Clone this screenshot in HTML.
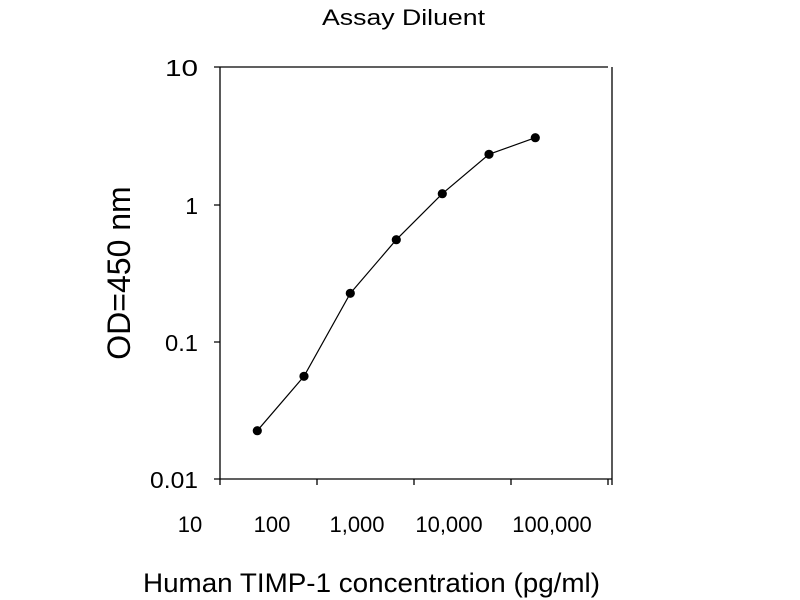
<!DOCTYPE html>
<html><head><meta charset="utf-8"><style>html,body{margin:0;padding:0;background:#fff}svg{display:block}</style></head>
<body>
<svg width="800" height="600" xmlns="http://www.w3.org/2000/svg" font-family="Liberation Sans, Arial, sans-serif" fill="#000">
<text x="322" y="25" font-size="22" textLength="163" lengthAdjust="spacingAndGlyphs">Assay Diluent</text>
<g stroke="#000" stroke-width="1.3" fill="none">
<path d="M220,67 H608 M220,67 V479 H612 M612,67 V485"/>
<path d="M214,67 H220 M214,205 H220 M214,342 H220 M214,479 H220"/>
<path d="M220,479 V485 M317,479 V485 M414,479 V485 M511,479 V485 M608,479 V485"/>
<polyline stroke-width="1.2" points="257.3,430.7 304,376.3 350.3,293.3 396.3,239.7 442.3,193.7 489,154.3 535.3,137.7"/>
</g>
<g>
<circle cx="257.3" cy="430.7" r="4.6"/><circle cx="304" cy="376.3" r="4.6"/><circle cx="350.3" cy="293.3" r="4.6"/><circle cx="396.3" cy="239.7" r="4.6"/><circle cx="442.3" cy="193.7" r="4.6"/><circle cx="489" cy="154.3" r="4.6"/><circle cx="535.3" cy="137.7" r="4.6"/>
</g>
<g font-size="23" text-anchor="end">
<text x="198" y="76" textLength="33" lengthAdjust="spacingAndGlyphs">10</text>
<text x="198" y="214">1</text>
<text x="198" y="351" textLength="33" lengthAdjust="spacingAndGlyphs">0.1</text>
<text x="198" y="488" textLength="48" lengthAdjust="spacingAndGlyphs">0.01</text>
</g>
<g font-size="22" text-anchor="middle">
<text x="190" y="532">10</text>
<text x="272" y="532">100</text>
<text x="357" y="532">1,000</text>
<text x="449" y="532">10,000</text>
<text x="552" y="532">100,000</text>
</g>
<text x="143" y="592" font-size="27" textLength="457" lengthAdjust="spacingAndGlyphs">Human TIMP-1 concentration (pg/ml)</text>
<text transform="translate(130,273) rotate(-90)" font-size="32" text-anchor="middle">OD=450 nm</text>
</svg>
</body></html>
